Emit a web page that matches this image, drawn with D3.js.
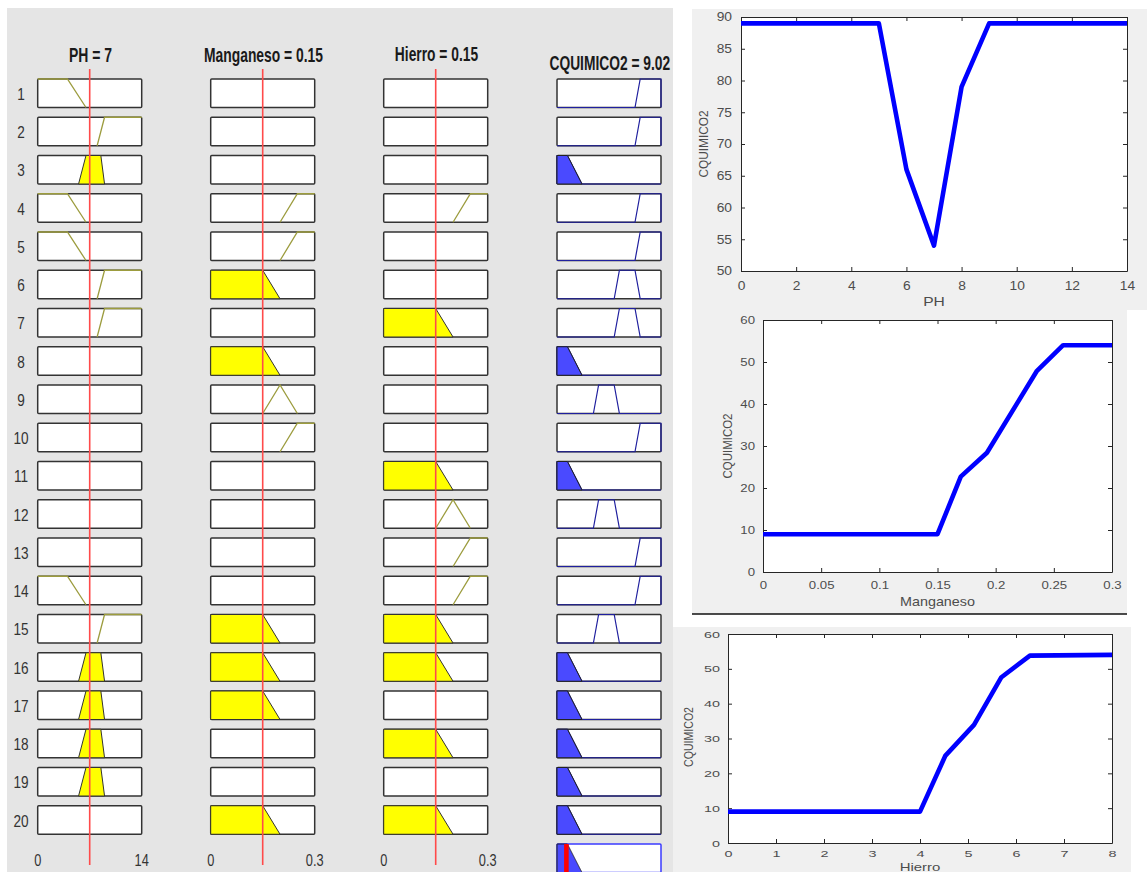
<!DOCTYPE html>
<html><head><meta charset="utf-8">
<script src="https://cdn.jsdelivr.net/npm/d3@7"></script>
<style>
body{margin:0;background:#fff}
svg{display:block}
text{font-family:"Liberation Sans",Arial,Helvetica,sans-serif}
</style>
</head><body>
<svg id="c" width="1147" height="872"></svg>
<script>
// ================= DATA =================
const inputNames = ["PH", "Manganeso", "Hierro"];
const inputValues = [7, 0.15, 0.15];
const inputRanges = [[0, 14], [0, 0.3], [0, 0.3]];
const rangeLabels = [["0", "14"], ["0", "0.3"], ["0", "0.3"]];
const outputName = "CQUIMICO2";
const outputValue = 9.02;
const outputRange = [0, 100];

// membership functions (trapezoids a,b,c,d)
const phMFs = { low: [0, 0, 4, 6.5], neutral: [5.5, 6.5, 8.5, 9], high: [8, 9, 14, 14] };
const mnMFs = { low: [0, 0, 0.15, 0.2], medium: [0.15, 0.2, 0.2, 0.25], high: [0.2, 0.25, 0.3, 0.3] };
const feMFs = { low: [0, 0, 0.15, 0.2], medium: [0.15, 0.2, 0.2, 0.25], high: [0.2, 0.25, 0.3, 0.3] };
const outMFs = { bajo: [0, 0, 10, 24], medio: [35, 40, 55, 60], alto: [55, 60, 75, 80], muyAlto: [75, 80, 100, 100] };

// rules 1..20
const ruleNumbers = d3.range(1, 21);
const rulePH = ["low","high","neutral","low","low","high","high",null,null,null,null,null,null,"low","high","neutral","neutral","neutral","neutral",null];
const ruleMn = [null,null,null,"high","high","low",null,"low","medium","high",null,null,null,null,"low","low","low",null,null,"low"];
const ruleFe = [null,null,null,"high",null,null,"low",null,null,null,"low","medium","high","high","low","low",null,"low",null,"low"];
const ruleOut = ["muyAlto","muyAlto","bajo","muyAlto","muyAlto","alto","alto","bajo","medio","muyAlto","bajo","medio","muyAlto","muyAlto","medio","bajo","bajo","bajo","bajo","bajo"];

// surface curves
const phX = [0, 5, 6, 7, 8, 9, 14];
const phY = [89, 89, 66, 54, 79, 89, 89];
const mnX = [0, 0.15, 0.17, 0.1925, 0.2355, 0.258, 0.3];
const mnY = [9, 9, 22.7, 28.4, 47.9, 54, 54];
const feX = [0, 4, 4.53, 5.125, 5.69, 6.29, 8];
const feY = [9, 9, 25.1, 33.9, 47.5, 53.8, 54];

const phXTicks = [0, 2, 4, 6, 8, 10, 12, 14];
const phYTicks = [50, 55, 60, 65, 70, 75, 80, 85, 90];
const mnXTicks = [0, 0.05, 0.1, 0.15, 0.2, 0.25, 0.3];
const mnYTicks = [0, 10, 20, 30, 40, 50, 60];
const feXTicks = [0, 1, 2, 3, 4, 5, 6, 7, 8];
const feYTicks = [0, 10, 20, 30, 40, 50, 60];

// ================= DRAW =================
const svg = d3.select("#c");
svg.append("rect").attr("width", 1147).attr("height", 872).attr("fill", "#fff");

function mu(x, p) {
  const [a, b, c, d] = p;
  if (x >= b && x <= c) return 1;
  if (x <= a || x >= d) return 0;
  if (x < b) return (x - a) / (b - a);
  return (d - x) / (d - c);
}

// ---------- Rule viewer ----------
svg.append("rect").attr("x", 7).attr("y", 8).attr("width", 666).attr("height", 864).attr("fill", "#e5e5e5");

const BOX_W = 104, BOX_H = 28.5;
const colLeft = [37.7, 210.7, 383.7, 557];
const rowTop = d3.scaleLinear().domain([1, 21]).range([79, 844]);
const inMFsets = [phMFs, mnMFs, feMFs];
const inRules = [rulePH, ruleMn, ruleFe];
const xScales = inputRanges.map((r, i) => d3.scaleLinear().domain(r).range([colLeft[i], colLeft[i] + BOX_W]));
const xOut = d3.scaleLinear().domain(outputRange).range([colLeft[3], colLeft[3] + BOX_W]);

const titleW = [43, 119, 83.3, 120.7];
const titleBase = [61.5, 61.5, 61, 70];
const titles = inputNames.map((n, i) => `${n} = ${inputValues[i]}`).concat([`${outputName} = ${outputValue}`]);
titles.forEach((t, i) => {
  svg.append("text").attr("x", colLeft[i] + BOX_W / 2 + 0.8).attr("y", titleBase[i])
    .attr("text-anchor", "middle").attr("font-size", 21).attr("font-weight", "bold")
    .attr("fill", "#1a1a1a").attr("textLength", titleW[i]).attr("lengthAdjust", "spacingAndGlyphs").text(t);
});

const OLIVE = "#9c9c3e", NAVY = "#1f1f9e", YELLOW = "#ffff00", BLUE = "#4a4aff";

function boxRect(x, y, stroke) {
  svg.append("rect").attr("x", x).attr("y", y).attr("width", BOX_W).attr("height", BOX_H)
    .attr("rx", 1).attr("fill", "#fff").attr("stroke", stroke || "#333").attr("stroke-width", 1.5);
}

ruleNumbers.forEach((rn, ri) => {
  const top = rowTop(rn);
  const yS = d3.scaleLinear().domain([0, 1]).range([top + BOX_H, top]);
  // rule number
  svg.append("text").attr("transform", `translate(21,${top + BOX_H / 2 + 1}) scale(0.85,1)`)
    .attr("text-anchor", "middle").attr("dy", "0.35em").attr("font-size", 16).attr("fill", "#333").text(rn);
  let w = 1;
  // inputs
  for (let i = 0; i < 3; i++) {
    boxRect(colLeft[i], top);
    const name = inRules[i][ri];
    if (!name) continue;
    const p = inMFsets[i][name];
    const s = xScales[i];
    const m = mu(inputValues[i], p);
    w = Math.min(w, m);
    const [a, b, c, d] = p;
    if (m > 0) {
      const poly = [[a, 0], [b, 1], [c, 1], [d, 0]];
      svg.append("path").attr("d", "M" + poly.map(q => [s(q[0]), yS(q[1])].join(",")).join("L") + "Z")
        .attr("fill", YELLOW).attr("stroke", "#333").attr("stroke-width", 1);
    } else {
      const pts = [];
      if (b > a) pts.push([a, 0]);
      pts.push([b, 1], [c, 1]);
      if (d > c) pts.push([d, 0]);
      svg.append("path").attr("d", "M" + pts.map(q => [s(q[0]), yS(q[1])].join(",")).join("L"))
        .attr("fill", "none").attr("stroke", OLIVE).attr("stroke-width", 1.3);
    }
  }
  // output
  boxRect(colLeft[3], top);
  const op = outMFs[ruleOut[ri]];
  const [a, b, c, d] = op;
  const full = [[outputRange[0], 0], [a, 0], [b, 1], [c, 1], [d, 0], [outputRange[1], 0]];
  svg.append("path").attr("d", "M" + full.map(q => [xOut(q[0]), yS(q[1])].join(",")).join("L"))
    .attr("fill", "none").attr("stroke", NAVY).attr("stroke-width", 1.2);
  if (w > 0) {
    const poly = [[a, 0], [a + (b - a) * w, w], [d - (d - c) * w, w], [d, 0]];
    svg.append("path").attr("d", "M" + poly.map(q => [xOut(q[0]), yS(q[1])].join(",")).join("L") + "Z")
      .attr("fill", BLUE).attr("stroke", "#222").attr("stroke-width", 1);
  }
});

// aggregated output (row 21)
(function () {
  const top = rowTop(21);
  const yS = d3.scaleLinear().domain([0, 1]).range([top + BOX_H, top]);
  boxRect(colLeft[3], top, "#3b3bff");
  const firing = ruleNumbers.map((rn, ri) => {
    let w = 1;
    for (let i = 0; i < 3; i++) { const n = inRules[i][ri]; if (n) w = Math.min(w, mu(inputValues[i], inMFsets[i][n])); }
    return w;
  });
  const xs = d3.range(outputRange[0], outputRange[1] + 0.001, 0.1);
  const agg = xs.map(x => [x, d3.max(ruleOut.map((n, ri) => Math.min(firing[ri], mu(x, outMFs[n]))))]);
  const area = d3.area().x(d => xOut(d[0])).y0(yS(0)).y1(d => yS(d[1]));
  svg.append("path").attr("d", area(agg)).attr("fill", BLUE).attr("stroke", "#222").attr("stroke-width", 1);
  svg.append("rect").attr("x", xOut(outputValue) - 2.3).attr("y", top).attr("width", 4.6).attr("height", BOX_H).attr("fill", "#ff0000");
})();

// red input lines
inputValues.forEach((v, i) => {
  svg.append("line").attr("x1", xScales[i](v)).attr("x2", xScales[i](v)).attr("y1", 69).attr("y2", 865)
    .attr("stroke", "#ff4a4a").attr("stroke-width", 1.6);
});

// range labels
rangeLabels.forEach((labs, i) => {
  inputRanges[i].forEach((v, j) => {
    svg.append("text").attr("transform", `translate(${xScales[i](v)},860) scale(0.8,1)`)
      .attr("text-anchor", "middle").attr("dy", "0.35em").attr("font-size", 16).attr("fill", "#333").text(labs[j]);
  });
});

// ---------- Surface plots ----------
const fmt = d3.format("~g");
function plot(cfg) {
  const [x0, y0, x1, y1] = cfg.area;
  svg.append("rect").attr("x", cfg.bg[0]).attr("y", cfg.bg[1]).attr("width", cfg.bg[2]).attr("height", cfg.bg[3]).attr("fill", "#f0f0f0");
  svg.append("rect").attr("x", x0).attr("y", y0).attr("width", x1 - x0).attr("height", y1 - y0).attr("fill", "#fff");
  const x = d3.scaleLinear().domain(cfg.xDom).range([x0, x1]);
  const y = d3.scaleLinear().domain(cfg.yDom).range([y1, y0]);
  const g = svg.append("g");
  function style(ax) {
    ax.attr("font-size", 12).attr("font-family", '"Liberation Sans",Arial,sans-serif');
    ax.select(".domain").attr("stroke", "#262626");
    ax.selectAll(".tick line").attr("stroke", "#262626");
    ax.selectAll(".tick text").attr("fill", "#4d4d4d").each(function () {
      const t = d3.select(this);
      const xv = +t.attr("x") || 0, yv = +t.attr("y") || 0;
      t.attr("x", 0).attr("y", 0).attr("transform", `translate(${xv},${yv}) scale(${cfg.sx},${cfg.sy})`);
    });
  }
  g.append("g").attr("transform", `translate(0,${y1})`)
    .call(d3.axisBottom(x).tickValues(cfg.xTicks).tickSizeInner(-4).tickSizeOuter(0).tickPadding(cfg.xPad).tickFormat(fmt)).call(style);
  g.append("g").attr("transform", `translate(${x0},0)`)
    .call(d3.axisLeft(y).tickValues(cfg.yTicks).tickSizeInner(-4).tickSizeOuter(0).tickPadding(cfg.yPad).tickFormat(fmt)).call(style);
  g.append("g").attr("transform", `translate(0,${y0})`)
    .call(d3.axisTop(x).tickValues(cfg.xTicks).tickSizeInner(-4).tickSizeOuter(0).tickFormat("")).call(style);
  g.append("g").attr("transform", `translate(${x1},0)`)
    .call(d3.axisRight(y).tickValues(cfg.yTicks).tickSizeInner(-4).tickSizeOuter(0).tickFormat("")).call(style);
  const ln = d3.line().x(d => x(d[0])).y(d => y(d[1]));
  svg.append("path").attr("d", ln(d3.zip(cfg.xs, cfg.ys))).attr("fill", "none")
    .attr("stroke", "#0000ff").attr("stroke-width", 4.6).attr("stroke-linejoin", "round");
  svg.append("text").attr("x", cfg.xl[0]).attr("y", cfg.xl[1]).attr("text-anchor", "middle").attr("dominant-baseline", "central")
    .attr("font-size", cfg.xl[3] || 13).attr("fill", "#4d4d4d").attr("textLength", cfg.xl[2]).attr("lengthAdjust", "spacingAndGlyphs").text(cfg.xLabel);
  svg.append("text").attr("transform", `translate(${cfg.yl[0]},${cfg.yl[1]}) rotate(-90)`).attr("text-anchor", "middle").attr("dominant-baseline", "central")
    .attr("font-size", 13).attr("fill", "#4d4d4d").attr("textLength", cfg.yl[2]).attr("lengthAdjust", "spacingAndGlyphs").text(outputName);
}

plot({ bg: [692, 9, 455, 301], area: [741, 17, 1127, 271], xDom: [0, 14], yDom: [50, 90],
  xTicks: phXTicks, yTicks: phYTicks, xs: phX, ys: phY, xPad: 10, yPad: 9, sx: 1.15, sy: 1,
  xLabel: inputNames[0], xl: [934, 301, 21.7], yl: [703, 144, 67] });
plot({ bg: [692, 310, 435, 304], area: [763, 320, 1112, 572], xDom: [0, 0.3], yDom: [0, 60],
  xTicks: mnXTicks, yTicks: mnYTicks, xs: mnX, ys: mnY, xPad: 9, yPad: 8, sx: 1.1, sy: 0.92,
  xLabel: inputNames[1], xl: [937.5, 601.7, 75], yl: [727, 446, 65] });
svg.append("line").attr("x1", 692).attr("x2", 1127).attr("y1", 614).attr("y2", 614).attr("stroke", "#111").attr("stroke-width", 1.5);
plot({ bg: [673, 627, 458, 245], area: [728, 634, 1112, 843], xDom: [0, 8], yDom: [0, 60],
  xTicks: feXTicks, yTicks: feYTicks, xs: feX, ys: feY, xPad: 7, yPad: 8, sx: 1.2, sy: 0.8,
  xLabel: inputNames[2], xl: [920, 866.5, 40.7, 11], yl: [688.5, 737, 60] });
</script>
</body></html>
